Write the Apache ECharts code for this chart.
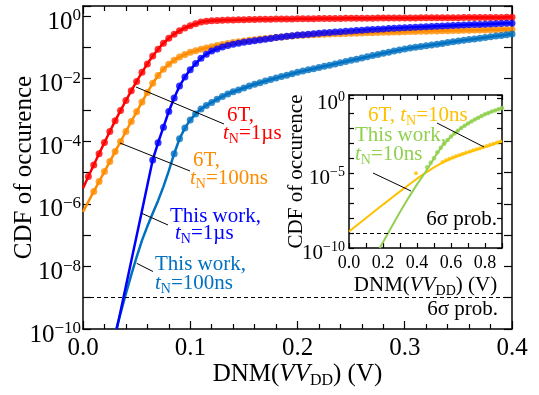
<!DOCTYPE html>
<html>
<head>
<meta charset="utf-8">
<script src="https://cdn.jsdelivr.net/npm/echarts@6/dist/echarts.min.js"></script>
<style>
  html, body { margin: 0; background: #fff; }
  #chart { width: 539px; height: 395px; }
</style>
</head>
<body>
<div id="chart"></div>
<script>
const FONT = 'Liberation Serif';

// 主图: DNM 采样点 (V)
const dnm = [0.000, 0.005, 0.010, 0.015, 0.020, 0.025, 0.030, 0.035, 0.040, 0.045,
  0.050, 0.055, 0.060, 0.065, 0.070, 0.075, 0.080, 0.085, 0.090, 0.095,
  0.100, 0.105, 0.110, 0.115, 0.120, 0.125, 0.130, 0.135, 0.140, 0.145,
  0.150, 0.155, 0.160, 0.165, 0.170, 0.175, 0.180, 0.185, 0.190, 0.195,
  0.200, 0.205, 0.210, 0.215, 0.220, 0.225, 0.230, 0.235, 0.240, 0.245,
  0.250, 0.255, 0.260, 0.265, 0.270, 0.275, 0.280, 0.285, 0.290, 0.295,
  0.300, 0.305, 0.310, 0.315, 0.320, 0.325, 0.330, 0.335, 0.340, 0.345,
  0.350, 0.355, 0.360, 0.365, 0.370, 0.375, 0.380, 0.385, 0.390, 0.395,
  0.400];

// 纵轴数据均为 log10(CDF)
const cdf6T1us = [null, -5.13, -4.76, -4.40, -4.04, -3.69, -3.35, -3.02, -2.70, -2.39,
  -2.09, -1.80, -1.53, -1.28, -1.06, -0.87, -0.71, -0.58, -0.47, -0.38,
  -0.31, -0.25, -0.19, -0.165, -0.150, -0.142, -0.136, -0.130, -0.125, -0.121,
  -0.117, -0.113, -0.110, -0.107, -0.104, -0.101, -0.099, -0.097, -0.095, -0.093,
  -0.091, -0.089, -0.087, -0.085, -0.083, -0.081, -0.080, -0.078, -0.077, -0.075,
  -0.074, -0.072, -0.071, -0.070, -0.068, -0.067, -0.066, -0.065, -0.064, -0.063,
  -0.062, -0.061, -0.060, -0.059, -0.058, -0.057, -0.056, -0.055, -0.054, -0.053,
  -0.052, -0.051, -0.050, -0.049, -0.048, -0.047, -0.046, -0.045, -0.044, -0.043,
  -0.042];
const cdf6T100ns = [null, null, -5.61, -5.29, -4.97, -4.65, -4.33, -4.01, -3.69, -3.37,
  -3.06, -2.75, -2.44, -2.15, -1.90, -1.70, -1.54, -1.41, -1.31, -1.23,
  -1.16, -1.11, -1.06, -1.02, -0.98, -0.94, -0.91, -0.88, -0.85, -0.82,
  -0.80, -0.775, -0.755, -0.735, -0.715, -0.70, -0.685, -0.67, -0.655, -0.64,
  -0.62, -0.612, -0.604, -0.597, -0.59, -0.583, -0.576, -0.57, -0.564, -0.558,
  -0.552, -0.547, -0.542, -0.537, -0.532, -0.527, -0.522, -0.517, -0.512, -0.507,
  -0.502, -0.498, -0.494, -0.49, -0.486, -0.482, -0.478, -0.474, -0.47, -0.466,
  -0.462, -0.458, -0.454, -0.45, -0.446, -0.443, -0.44, -0.437, -0.434, -0.431,
  -0.428];
const cdfWork1us = [null, null, null, null, null, null, null, null, null, null,
  null, null, null, -4.60, -4.05, -3.55, -3.05, -2.62, -2.24, -1.95,
  -1.72, -1.52, -1.35, -1.22, -1.12, -1.05, -0.99, -0.94, -0.90, -0.87,
  -0.84, -0.815, -0.79, -0.765, -0.74, -0.715, -0.69, -0.67, -0.65, -0.63,
  -0.61, -0.595, -0.58, -0.565, -0.55, -0.537, -0.524, -0.511, -0.499, -0.487,
  -0.475, -0.464, -0.453, -0.442, -0.432, -0.422, -0.412, -0.402, -0.393, -0.384,
  -0.375, -0.367, -0.359, -0.351, -0.343, -0.335, -0.327, -0.319, -0.311, -0.303,
  -0.296, -0.289, -0.282, -0.275, -0.268, -0.261, -0.254, -0.247, -0.240, -0.234,
  -0.228];
const cdfWork100ns = [null, null, null, null, null, null, null, null, null, null,
  null, null, null, null, null, null, null, -4.40, -3.92, -3.58,
  -3.32, -3.13, -2.97, -2.86, -2.76, -2.66, -2.57, -2.49, -2.42, -2.36,
  -2.30, -2.24, -2.18, -2.13, -2.08, -2.03, -1.98, -1.935, -1.89, -1.845,
  -1.80, -1.76, -1.72, -1.685, -1.645, -1.605, -1.57, -1.53, -1.49, -1.455,
  -1.415, -1.38, -1.34, -1.305, -1.265, -1.23, -1.19, -1.155, -1.12, -1.085,
  -1.05, -1.025, -1.0, -0.975, -0.95, -0.925, -0.9, -0.875, -0.85, -0.825,
  -0.80, -0.777, -0.754, -0.731, -0.708, -0.686, -0.664, -0.642, -0.62, -0.598,
  -0.576];

// 拟合线在数据点以下的延长部分
const fit6T1usX = [0];
const fit6T1usY = [-5.5];
const fit6T100nsX = [0, 0.005];
const fit6T100nsY = [-6.26, -5.93];
const fitWork1usX = [0.0315, 0.045, 0.055, 0.060];
const fitWork1usY = [-10, -7.83, -6.22, -5.41];
const fitWork100nsX = [0.031, 0.035, 0.040, 0.045, 0.050, 0.055, 0.060, 0.065, 0.070, 0.075, 0.080];
const fitWork100nsY = [-10, -9.5, -8.87, -8.27, -7.7, -7.17, -6.72, -6.3, -5.9, -5.45, -4.95];

// 插图: tN = 10ns
const insetFit6TX = [0, 0.05, 0.1, 0.15, 0.2, 0.25, 0.3, 0.35, 0.4, 0.45, 0.5, 0.55, 0.6, 0.65, 0.7, 0.75, 0.8, 0.85, 0.9];
const insetFit6TY = [-8.9, -8.45, -8.0, -7.55, -7.1, -6.66, -6.22, -5.79, -5.37, -4.98, -4.62, -4.3, -4.04, -3.82, -3.63, -3.44, -3.26, -3.07, -2.87];
const insetDot6TX = [0.394, 0.55, 0.57, 0.59, 0.61, 0.63, 0.65, 0.67, 0.69, 0.71, 0.73, 0.75, 0.77, 0.79, 0.81, 0.83, 0.85, 0.87, 0.89];
const insetDot6TY = [-5.0, -4.25, -4.14, -4.04, -3.95, -3.86, -3.78, -3.7, -3.62, -3.55, -3.47, -3.4, -3.33, -3.25, -3.18, -3.1, -3.03, -2.95, -2.88];
const insetFitWorkX = [0.18, 0.2, 0.25, 0.3, 0.35, 0.4, 0.45, 0.5, 0.55, 0.6, 0.65, 0.7, 0.75, 0.8, 0.85, 0.9];
const insetFitWorkY = [-10, -9.62, -8.6, -7.6, -6.65, -5.75, -4.92, -4.0, -3.15, -2.55, -2.07, -1.68, -1.35, -1.07, -0.85, -0.65];
const insetDotWorkX = [0.46, 0.48, 0.5, 0.52, 0.54, 0.56, 0.58, 0.6, 0.62, 0.64, 0.66, 0.68, 0.7, 0.72, 0.74, 0.76, 0.78, 0.8, 0.82, 0.84, 0.86, 0.88, 0.9];
const insetDotWorkY = [-4.6, -4.3, -4.0, -3.6, -3.3, -3.03, -2.78, -2.55, -2.35, -2.16, -1.99, -1.83, -1.68, -1.55, -1.42, -1.3, -1.18, -1.07, -0.98, -0.89, -0.81, -0.73, -0.65];

// 刻度标签
const mainXLabels = [0, 0.1, 0.2, 0.3, 0.4];
const mainYLabelExp = [0, -2, -4, -6, -8, -10];
const insetXLabels = [0, 0.2, 0.4, 0.6, 0.8];
const insetYLabelExp = [0, -5, -10];
const sixSigmaLog = -9;

const C_RED = '#ff0000', C_ORANGE = '#ff8c00', C_BLUE = '#0000ff', C_STEEL = '#0070c0';
const C_GOLD = '#ffc000', C_GREEN = '#92d050';

const pairs = (xs, ys) => xs.map((x, i) => [x, ys[i]]).filter(p => p[1] != null);
const near = (list, v) => list.some(t => Math.abs(t - v) < 1e-6);

// 1.初始化
const myChart = echarts.init(document.getElementById('chart'));

const expLabel = (list) => (v) => {
  if (!near(list, v)) return '';
  const n = Math.round(v);
  return '{b|10}{s|' + (n < 0 ? '\u2212' + (-n) : '0') + '}';
};

const line = { color: '#000', width: 1.5 };
const tickStyle = { color: '#000', width: 1.2 };

function xAxis(grid, pos, max, interval, tickLen, minor, labelCfg) {
  return {
    type: 'value', gridIndex: grid, position: pos, min: 0, max: max, interval: interval,
    axisLine: { show: true, onZero: false, lineStyle: line },
    axisTick: { show: true, inside: true, length: tickLen, lineStyle: tickStyle },
    minorTick: minor ? { show: true, splitNumber: minor, length: 5, lineStyle: tickStyle } : { show: false },
    splitLine: { show: false },
    nameMoveOverlap: false,
    axisLabel: labelCfg || { show: false }
  };
}
function yAxis(grid, pos, max, tickLen, labelCfg) {
  return {
    type: 'value', gridIndex: grid, position: pos, min: -10, max: max, interval: 1,
    axisLine: { show: true, onZero: false, lineStyle: line },
    axisTick: { show: true, inside: true, length: tickLen, lineStyle: tickStyle },
    splitLine: { show: false },
    nameMoveOverlap: false,
    axisLabel: labelCfg || { show: false }
  };
}

const dnmName = (size, sub) => ({
  fontFamily: FONT, fontSize: size, color: '#000',
  rich: {
    a: { fontFamily: FONT, fontSize: size, lineHeight: size, color: '#000' },
    i: { fontFamily: FONT, fontSize: size, lineHeight: size, fontStyle: 'italic', color: '#000' },
    d: { fontFamily: FONT, fontSize: sub, lineHeight: sub, color: '#000', verticalAlign: 'top', padding: [size * 0.44, 0, 0, 0] }
  }
});
const DNM_TEXT = '{a|DNM(}{i|VV}{d|DD}{a|) (V)}';

const mainX = xAxis(0, 'bottom', 0.4, 0.1, 8, 5, {
  margin: 7, fontFamily: FONT, fontSize: 25, color: '#000',
  formatter: v => near(mainXLabels, v) ? v.toFixed(1) : ''
});
mainX.name = DNM_TEXT;
mainX.nameLocation = 'middle';
mainX.nameGap = 33;
mainX.nameTextStyle = dnmName(25, 16);

const mainY = yAxis(0, 'left', 0.32, 8, {
  margin: 2, formatter: expLabel(mainYLabelExp),
  rich: {
    b: { fontFamily: FONT, fontSize: 25, lineHeight: 25, color: '#000', padding: [12, 0, 0, 0] },
    s: { fontFamily: FONT, fontSize: 17, lineHeight: 17, color: '#000', verticalAlign: 'top', padding: [4, 0, 0, 0] }
  }
});
mainY.name = 'CDF of occurence';
mainY.nameLocation = 'middle';
mainY.nameGap = 46;
mainY.nameTextStyle = { fontFamily: FONT, fontSize: 25, color: '#000' };

const insetX = xAxis(1, 'bottom', 0.9, 0.1, 5, 0, {
  margin: 6, fontFamily: FONT, fontSize: 18, color: '#000',
  formatter: v => near(insetXLabels, v) ? v.toFixed(1) : ''
});
insetX.name = DNM_TEXT;
insetX.nameLocation = 'middle';
insetX.nameGap = 27;
insetX.nameTextStyle = dnmName(21, 14);

const insetY = yAxis(1, 'left', 0.22, 5, {
  margin: 4, formatter: expLabel(insetYLabelExp),
  rich: {
    b: { fontFamily: FONT, fontSize: 21, lineHeight: 21, color: '#000', padding: [10, 0, 0, 0] },
    s: { fontFamily: FONT, fontSize: 14, lineHeight: 14, color: '#000', verticalAlign: 'top', padding: [3, 0, 0, 0] }
  }
});
insetY.name = 'CDF of occurence';
insetY.nameLocation = 'middle';
insetY.nameGap = 42;
insetY.nameTextStyle = { fontFamily: FONT, fontSize: 21, color: '#000' };

function fitLine(name, data, color, xi, yi, width) {
  return { name: name, type: 'line', xAxisIndex: xi, yAxisIndex: yi, data: data, showSymbol: false,
    lineStyle: { color: color, width: width }, itemStyle: { color: color }, silent: true, z: 2 };
}
function dots(name, data, color, xi, yi, size) {
  return { name: name, type: 'scatter', xAxisIndex: xi, yAxisIndex: yi, data: data, symbolSize: size,
    itemStyle: { color: color }, silent: true, z: 3 };
}
const sigmaLine = {
  silent: true, symbol: 'none', label: { show: false },
  lineStyle: { color: '#000', type: [4, 3], width: 1.2 },
  data: [{ yAxis: sixSigmaLog }]
};

const annRich = (color) => ({
  r: { fill: color, fontFamily: FONT, fontSize: 21, lineHeight: 21 },
  i: { fill: color, fontFamily: FONT, fontSize: 21, lineHeight: 21, fontStyle: 'italic' },
  n: { fill: color, fontFamily: FONT, fontSize: 14, lineHeight: 14, verticalAlign: 'top', padding: [10, 0, 0, 0] }
});
const txt = (x, y, text, color, align) => ({
  type: 'text', x: x, y: y, z: 20, silent: true,
  style: { text: text, fill: color, font: '21px "' + FONT + '"', rich: annRich(color),
    align: align || 'left', verticalAlign: 'middle' }
});
const leader = (x1, y1, x2, y2) => ({
  type: 'line', z: 19, silent: true, shape: { x1: x1, y1: y1, x2: x2, y2: y2 },
  style: { stroke: '#000', lineWidth: 1 }
});

// 2.构建 option 配置对象
const options = {
  animation: false,
  backgroundColor: '#fff',
  grid: [
    { left: 83, right: 27, top: 6, bottom: 66, outerBoundsMode: 'none', containLabel: false },
    { left: 349, right: 37, top: 95, bottom: 147, outerBoundsMode: 'none', containLabel: false }
  ],
  xAxis: [mainX, xAxis(0, 'top', 0.4, 0.1, 8, 5), insetX, xAxis(1, 'top', 0.9, 0.1, 5, 0)],
  yAxis: [mainY, yAxis(0, 'right', 0.32, 8), insetY, yAxis(1, 'right', 0.22, 5)],
  series: [
    Object.assign(fitLine('6T, tN=100ns', pairs(fit6T100nsX, fit6T100nsY).concat(pairs(dnm, cdf6T100ns)), C_ORANGE, 0, 0, 2.5), { markLine: sigmaLine }),
    dots('6T, tN=100ns', pairs(dnm, cdf6T100ns), C_ORANGE, 0, 0, 7),
    fitLine('6T, tN=1us', pairs(fit6T1usX, fit6T1usY).concat(pairs(dnm, cdf6T1us)), C_RED, 0, 0, 2.5),
    dots('6T, tN=1us', pairs(dnm, cdf6T1us), C_RED, 0, 0, 7),
    fitLine('This work, tN=100ns', pairs(fitWork100nsX, fitWork100nsY).concat(pairs(dnm, cdfWork100ns)), C_STEEL, 0, 0, 2.5),
    dots('This work, tN=100ns', pairs(dnm, cdfWork100ns), C_STEEL, 0, 0, 7),
    fitLine('This work, tN=1us', pairs(fitWork1usX, fitWork1usY).concat(pairs(dnm, cdfWork1us)), C_BLUE, 0, 0, 2.5),
    dots('This work, tN=1us', pairs(dnm, cdfWork1us), C_BLUE, 0, 0, 7),

    Object.assign(fitLine('6T, tN=10ns', pairs(insetFit6TX, insetFit6TY), C_GOLD, 2, 2, 2), { markLine: sigmaLine }),
    dots('6T, tN=10ns', pairs(insetDot6TX, insetDot6TY), C_GOLD, 2, 2, 4),
    fitLine('This work, tN=10ns', pairs(insetFitWorkX, insetFitWorkY), C_GREEN, 2, 2, 2),
    dots('This work, tN=10ns', pairs(insetDotWorkX, insetDotWorkY), C_GREEN, 2, 2, 4.5)
  ],
  graphic: [
    leader(136, 87, 224, 124),
    leader(120, 143, 190, 171),
    leader(141.7, 213.3, 168, 225),
    leader(136.7, 263.3, 153, 271.5),
    leader(437, 123, 484, 147),
    leader(373, 173, 411, 191),

    txt(227, 115, '6T,', C_RED),
    txt(223, 133, '{i|t}{n|N}{r|=1\u00b5s}', C_RED),
    txt(193, 160, '6T,', C_ORANGE),
    txt(190, 178, '{i|t}{n|N}{r|=100ns}', C_ORANGE),
    txt(170, 216, 'This work,', C_BLUE),
    txt(175, 233, '{i|t}{n|N}{r|=1\u00b5s}', C_BLUE),
    txt(155, 264, 'This work,', C_STEEL),
    txt(155, 283, '{i|t}{n|N}{r|=100ns}', C_STEEL),
    txt(498, 309, '6\u03c3 prob.', '#000', 'right'),

    txt(368, 115, '{r|6T, }{i|t}{n|N}{r|=10ns}', C_GOLD),
    txt(355, 135, 'This work,', C_GREEN),
    txt(355, 154, '{i|t}{n|N}{r|=10ns}', C_GREEN),
    txt(497, 219, '6\u03c3 prob.', '#000', 'right')
  ]
};

// 3.通过实例.setOptions(option)
myChart.setOption(options);
</script>
</body>
</html>
